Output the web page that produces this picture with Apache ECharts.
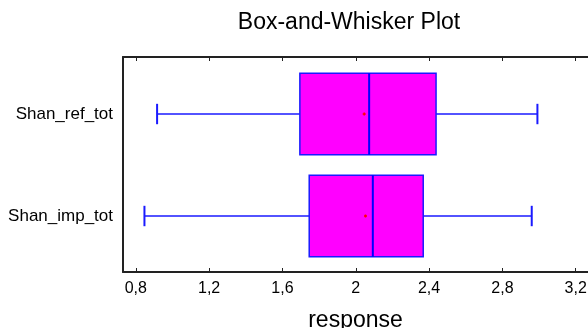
<!DOCTYPE html>
<html>
<head>
<meta charset="utf-8">
<script src="https://cdn.jsdelivr.net/npm/echarts@6/dist/echarts.min.js"></script>
<style>html,body{margin:0;padding:0;background:#fff}#c{width:588px;height:328px}</style>
</head>
<body>
<div id="c"></div>
<script>
var categories = ['Shan_ref_tot', 'Shan_imp_tot'];
var whiskerMin = [0.916, 0.847];
var q1 = [1.695, 1.746];
var median = [2.073, 2.093];
var q3 = [2.438, 2.368];
var whiskerMax = [2.991, 2.960];
var means = [2.046, 2.053];
var xTicks = [0.8, 1.2, 1.6, 2.0, 2.4, 2.8, 3.2];
var catPositions = [1, 2];

var data = categories.map(function (c, i) {
  return [catPositions[i], whiskerMin[i], q1[i], median[i], q3[i], whiskerMax[i], means[i]];
});

var FONT = 'Liberation Sans, Arial, sans-serif';
var chart = echarts.init(document.getElementById('c'), null, {renderer: 'canvas'});

function renderItem(params, api) {
  var y = api.value(0);
  var vmin = api.value(1), vq1 = api.value(2), vmed = api.value(3), vq3 = api.value(4), vmax = api.value(5), vmean = api.value(6);
  var pMin = api.coord([vmin, y]);
  var pQ1 = api.coord([vq1, y]);
  var pMed = api.coord([vmed, y]);
  var pQ3 = api.coord([vq3, y]);
  var pMax = api.coord([vmax, y]);
  var pMean = api.coord([vmean, y]);
  var boxH = Math.abs(api.size([0, 0.8])[1]);
  var capH = Math.abs(api.size([0, 0.2])[1]);
  var cy = pMin[1];
  var blue = '#1a1aff';
  var lw = {stroke: blue, lineWidth: 1.5};
  return {
    type: 'group',
    children: [
      {type: 'line', shape: {x1: pMin[0], y1: cy, x2: pQ1[0], y2: cy}, style: lw},
      {type: 'line', shape: {x1: pQ3[0], y1: cy, x2: pMax[0], y2: cy}, style: lw},
      {type: 'line', shape: {x1: pMin[0], y1: cy - capH / 2, x2: pMin[0], y2: cy + capH / 2}, style: {stroke: blue, lineWidth: 2}},
      {type: 'line', shape: {x1: pMax[0], y1: cy - capH / 2, x2: pMax[0], y2: cy + capH / 2}, style: {stroke: blue, lineWidth: 2}},
      {type: 'rect', shape: {x: pQ1[0], y: cy - boxH / 2, width: pQ3[0] - pQ1[0], height: boxH}, style: {fill: '#ff00ff', stroke: blue, lineWidth: 1.5}},
      {type: 'line', shape: {x1: pMed[0], y1: cy - boxH / 2, x2: pMed[0], y2: cy + boxH / 2}, style: {stroke: '#0000ff', lineWidth: 2}},
      {type: 'line', shape: {x1: pMean[0] - 1.5, y1: cy, x2: pMean[0] + 1.5, y2: cy}, style: {stroke: '#ff0000', lineWidth: 1.5}},
      {type: 'line', shape: {x1: pMean[0], y1: cy - 1.5, x2: pMean[0], y2: cy + 1.5}, style: {stroke: '#ff0000', lineWidth: 1.5}}
    ]
  };
}

var axisLineStyle = {color: '#222', width: 2};

chart.setOption({
  animation: false,
  backgroundColor: '#fff',
  title: {
    text: 'Box-and-Whisker Plot',
    left: 344, top: 6, textAlign: 'center',
    textStyle: {fontFamily: FONT, fontSize: 23, fontWeight: 'normal', color: '#000'}
  },
  grid: {left: 123, right: 0, top: 57, bottom: 56, containLabel: false, outerBoundsMode: 'none'},
  xAxis: [{
    type: 'value', position: 'bottom', min: 0.73, max: 3.267,
    axisLine: {show: true, lineStyle: axisLineStyle},
    axisTick: {show: true, inside: true, length: 4, lineStyle: {color: '#222', width: 1}, customValues: xTicks},
    axisLabel: {show: true, customValues: xTicks, margin: 9, fontFamily: FONT, fontSize: 16, color: '#000',
      formatter: function (v) { return String(Math.round(v * 10) / 10).replace('.', ','); }},
    splitLine: {show: false},
    name: 'response', nameLocation: 'middle', nameGap: 37,
    nameTextStyle: {fontFamily: FONT, fontSize: 23, color: '#000'}
  }, {
    type: 'value', position: 'top', min: 0.73, max: 3.267,
    axisLine: {show: true, lineStyle: axisLineStyle},
    axisTick: {show: true, inside: true, length: 4, lineStyle: {color: '#222', width: 1}, customValues: xTicks},
    axisLabel: {show: false},
    splitLine: {show: false}
  }],
  yAxis: {
    type: 'value', inverse: true, min: 0.441, max: 2.549,
    axisLine: {show: true, lineStyle: axisLineStyle},
    axisTick: {show: false},
    splitLine: {show: false},
    axisLabel: {show: true, customValues: catPositions, margin: 10, fontFamily: FONT, fontSize: 17, color: '#000',
      formatter: function (v) { return categories[Math.round(v) - 1] || ''; }}
  },
  series: [{
    type: 'custom',
    renderItem: renderItem,
    encode: {x: [1, 2, 3, 4, 5, 6], y: 0},
    data: data
  }]
});
</script>
</body>
</html>
